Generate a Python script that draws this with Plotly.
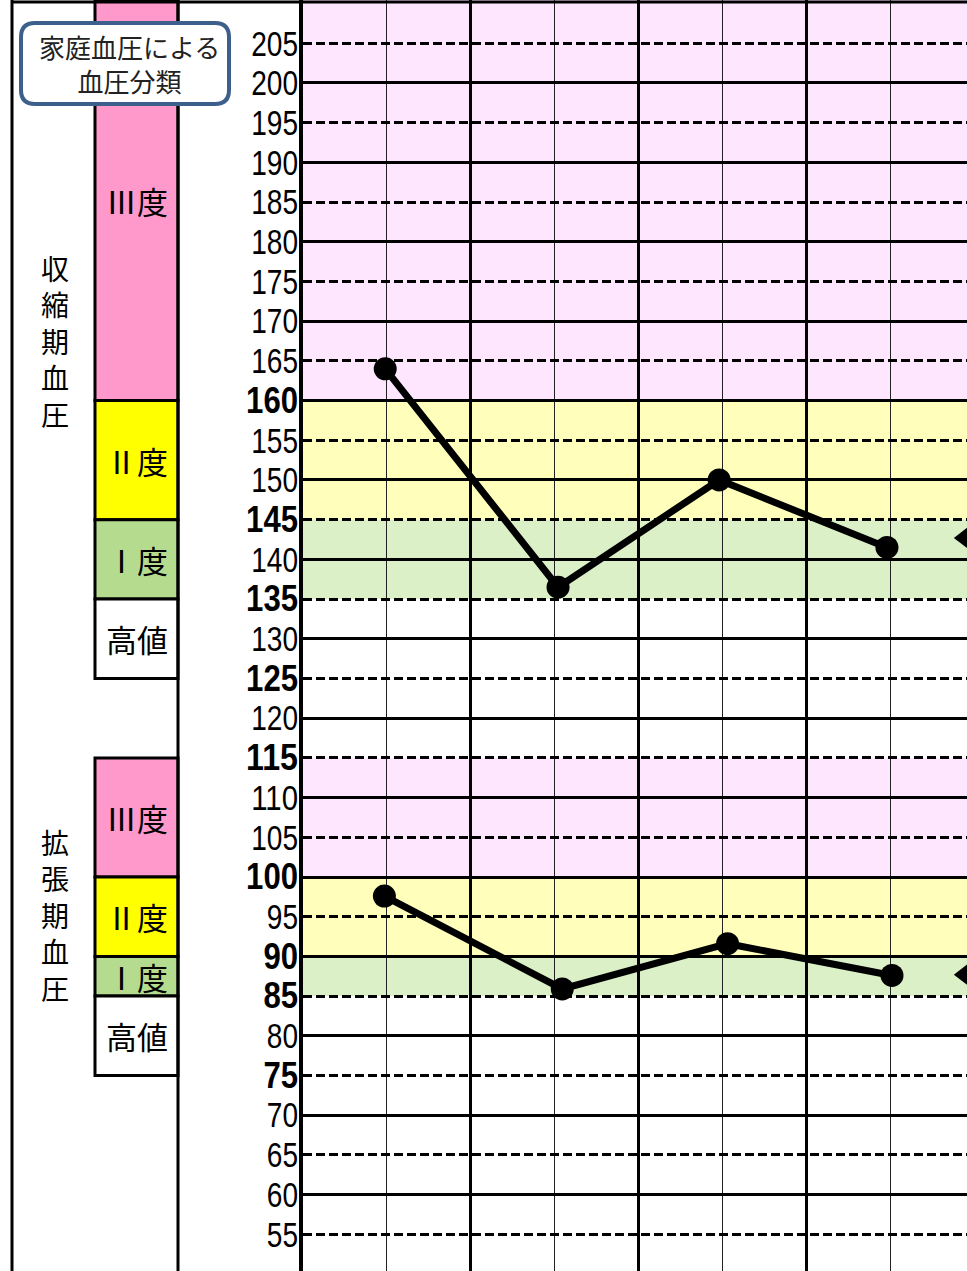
import plotly.graph_objects as go

# ---------------- data ----------------
W, H = 967, 1271
Y_MIN, Y_MAX = 50.38, 210.45
X_MAX = 7.914

tick_values = list(range(55, 206, 5))
bold_ticks = [160, 145, 135, 125, 115, 100, 90, 85, 75]
solid_grid = list(range(60, 201, 10))
col_major = [0, 2, 4, 6, 8]
col_minor = [1, 3, 5, 7]

sys_x = [0.98, 3.04, 4.96, 6.96]
sys_y = [164, 136.5, 150, 141.5]
dia_x = [0.97, 3.09, 5.06, 7.02]
dia_y = [97.6, 85.9, 91.6, 87.6]
next_x = [7.9, 7.9]
next_y = [142.7, 87.7]

class_labels = ["Ⅲ度", "Ⅱ度", "Ⅰ度", "高値", "Ⅲ度", "Ⅱ度", "Ⅰ度", "高値"]
class_low = [160, 145, 135, 125, 100, 90, 85, 75]
class_high = [Y_MAX, 160, 145, 135, 115, 100, 90, 85]
class_bar_colors = ["#FF99CC", "#FFFF00", "#B5DC8E", "#FFFFFF",
                    "#FF99CC", "#FFFF00", "#B5DC8E", "#FFFFFF"]

band_low = [160, 145, 135, 100, 90, 85]
band_high = [Y_MAX, 160, 145, 115, 100, 90]
band_colors = ["#FFE6FF", "#FFFFBB", "#DCF0C8", "#FFE6FF", "#FFFFBB", "#DCF0C8"]

group_labels = ["収縮期血圧", "拡張期血圧"]
group_centers = [167.5, 95.2]
title_text = "家庭血圧による<br>血圧分類"

# ---------------- helpers ----------------
def px(x):
    return x / W

def py(y):
    return 1 - y / H

NUM_FONT = "Liberation Sans, Arial, DejaVu Sans, sans-serif"
JP_FONT = "Noto Sans CJK JP, Noto Sans CJK SC, sans-serif"

fig = go.Figure()

fig.add_trace(go.Scatter(x=sys_x, y=sys_y, mode="lines+markers",
                         line=dict(color="black", width=7),
                         marker=dict(color="black", size=23),
                         showlegend=False, hoverinfo="skip"))
fig.add_trace(go.Scatter(x=dia_x, y=dia_y, mode="lines+markers",
                         line=dict(color="black", width=7),
                         marker=dict(color="black", size=23),
                         showlegend=False, hoverinfo="skip"))
fig.add_trace(go.Scatter(x=next_x, y=next_y, mode="markers",
                         marker=dict(color="black", size=24, symbol="triangle-left"),
                         showlegend=False, hoverinfo="skip"))

shapes = []
for lo, hi, c in zip(band_low, band_high, band_colors):
    shapes.append(dict(type="rect", xref="x", yref="y", x0=0, x1=X_MAX,
                       y0=lo, y1=hi, fillcolor=c, line=dict(width=0),
                       layer="below"))
for lo, hi, c in zip(class_low, class_high, class_bar_colors):
    shapes.append(dict(type="rect", xref="paper", yref="y", x0=px(95), x1=px(178),
                       y0=lo, y1=hi, fillcolor=c,
                       line=dict(color="black", width=3), layer="above"))
shapes.append(dict(type="line", xref="paper", yref="paper", x0=px(12), x1=px(12),
                   y0=0, y1=1, line=dict(color="black", width=3)))
shapes.append(dict(type="line", xref="paper", yref="paper", x0=px(178), x1=px(178),
                   y0=0, y1=1, line=dict(color="black", width=3)))
shapes.append(dict(type="line", xref="paper", yref="paper", x0=px(12), x1=1,
                   y0=py(2), y1=py(2), line=dict(color="black", width=3)))

x0b, x1b, y0b, y1b, r = 21, 229, 23, 104, 14
path = (f"M {px(x0b + r)},{py(y0b)} L {px(x1b - r)},{py(y0b)} "
        f"Q {px(x1b)},{py(y0b)} {px(x1b)},{py(y0b + r)} "
        f"L {px(x1b)},{py(y1b - r)} Q {px(x1b)},{py(y1b)} {px(x1b - r)},{py(y1b)} "
        f"L {px(x0b + r)},{py(y1b)} Q {px(x0b)},{py(y1b)} {px(x0b)},{py(y1b - r)} "
        f"L {px(x0b)},{py(y0b + r)} Q {px(x0b)},{py(y0b)} {px(x0b + r)},{py(y0b)} Z")
shapes.append(dict(type="path", xref="paper", yref="paper", path=path,
                   fillcolor="white", line=dict(color="#3D5F8C", width=4),
                   layer="above"))

annotations = []
for lab, lo, hi in zip(class_labels, class_low, class_high):
    annotations.append(dict(x=px(137), xref="paper", y=(lo + hi) / 2, yref="y",
                            text=lab, showarrow=False,
                            font=dict(family=JP_FONT, size=31, color="black"),
                            xanchor="center", yanchor="middle"))
for lab, yc in zip(group_labels, group_centers):
    annotations.append(dict(x=px(55), xref="paper", y=yc, yref="y",
                            text="<br>".join(list(lab)), showarrow=False,
                            font=dict(family=JP_FONT, size=28, color="black"),
                            xanchor="center", yanchor="middle"))
annotations.append(dict(x=px(129), xref="paper", y=py(64), yref="paper",
                        text=title_text, showarrow=False,
                        font=dict(family=JP_FONT, size=26, color="#222222"),
                        xanchor="center", yanchor="middle"))

tick_text = [f'<b><span style="font-size:36px">{v}</span></b>' if v in bold_ticks
             else str(v) for v in tick_values]

fig.update_layout(
    width=W, height=H,
    margin=dict(l=0, r=0, t=0, b=0),
    paper_bgcolor="white", plot_bgcolor="white",
    shapes=shapes, annotations=annotations,
    xaxis=dict(domain=[303 / W, 1], range=[0, X_MAX], showticklabels=False,
               tickvals=col_major, showgrid=True, gridcolor="black", gridwidth=3,
               zeroline=False, ticks="", ticklen=0,
               minor=dict(tickvals=col_minor, showgrid=True, gridcolor="#222222",
                          gridwidth=1.2, ticks="")),
    yaxis=dict(domain=[0, 1], range=[Y_MIN, Y_MAX], tickvals=tick_values,
               ticktext=tick_text, showgrid=True, gridcolor="black", gridwidth=2.5,
               griddash="9px,4px", zeroline=False, ticks="", ticklen=0,
               ticklabelstandoff=2,
               showline=True, linecolor="black", linewidth=4,
               tickfont=dict(family=NUM_FONT, size=35, color="black"),
               minor=dict(tickvals=solid_grid, showgrid=True, gridcolor="black",
                          gridwidth=3, griddash="solid", ticks="")),
)

post_js = """
document.body.style.margin = '0';
document.body.style.padding = '0';
var gd = document.getElementById('{plot_id}');
gd.querySelectorAll('.ytick text').forEach(function (t) {
  var s = t.textContent || '';
  var isBold = t.innerHTML.indexOf('bold') >= 0;
  var per = isBold ? 17.3 : 15.6;
  t.setAttribute('textLength', (s.length * per).toFixed(1));
  t.setAttribute('lengthAdjust', 'spacingAndGlyphs');
  var rc = t.getBoundingClientRect();
  var dx = 298 - rc.right;
  var x0 = parseFloat(t.getAttribute('x') || '0');
  t.setAttribute('x', (x0 + dx).toFixed(1));
});
"""

fig.write_html("out.html", post_script=post_js,
               config={"displayModeBar": False})
